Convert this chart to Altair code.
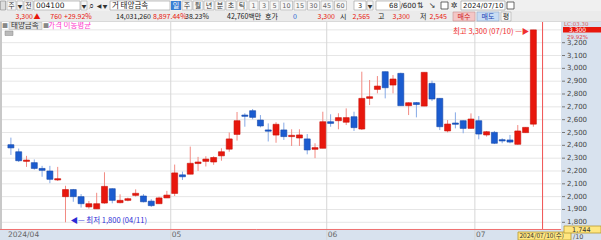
import altair as alt
import pandas as pd

# ---------------- data ----------------
dates = ["04/01","04/02","04/03","04/04","04/05","04/08","04/09","04/11","04/12","04/15",
         "04/16","04/17","04/18","04/19","04/22","04/23","04/24","04/25","04/26","04/29","04/30",
         "05/02","05/03","05/07","05/08","05/09","05/10","05/13","05/14","05/16","05/17",
         "05/20","05/21","05/22","05/23","05/24","05/27","05/28","05/29","05/30","05/31",
         "06/03","06/04","06/05","06/07","06/10","06/11","06/12","06/13","06/14","06/17",
         "06/18","06/19","06/20","06/21","06/24","06/25","06/26","06/27","06/28",
         "07/01","07/02","07/03","07/04","07/05","07/08","07/09","07/10"]
opens = [2405,2350,2275,2265,2220,2200,2130,2000,2055,2000,1920,1905,1950,2062,1953,1971,2010,2005,1965,1945,1990,
         2025,2170,2175,2258,2275,2270,2318,2370,2485,2636,2670,2597,2520,2480,2520,2468,2457,2450,2369,2377,
         2584,2592,2580,2623,2527,2766,2836,2974,2870,2961,2709,2733,2706,2883,2766,2512,2574,2592,2532,
         2592,2481,2501,2444,2442,2408,2499,2565]
closes = [2380,2280,2285,2220,2205,2135,2140,2055,2000,1945,1945,1945,2080,1971,1971,1984,2026,1960,1930,1990,2012,
          2185,2155,2260,2270,2293,2305,2350,2450,2592,2626,2618,2551,2510,2564,2468,2478,2481,2364,2382,2584,
          2571,2616,2616,2538,2766,2779,2862,2849,2917,2709,2732,2718,2969,2761,2545,2566,2564,2532,2605,
          2488,2506,2416,2434,2425,2512,2540,3300]
highs = [2460,2375,2318,2290,2240,2240,2232,2085,2060,2020,1966,2030,2190,2065,2018,1992,2057,2020,1980,2000,2045,
         2250,2195,2390,2310,2315,2315,2377,2500,2660,2650,2683,2636,2571,2580,2577,2525,2525,2488,2416,2662,
         2642,2650,2688,2662,2974,2909,2940,2975,2948,2966,2735,2738,2970,2904,2768,2597,2657,2594,2649,
         2628,2512,2512,2455,2481,2558,2540,3300]
lows = [2325,2270,2232,2210,2155,2105,2122,1800,1960,1915,1906,1905,1945,1948,1948,1964,2000,1955,1920,1945,1990,
        2005,2130,2175,2200,2235,2248,2280,2350,2437,2545,2603,2540,2430,2420,2442,2395,2395,2330,2300,2377,
        2545,2525,2558,2512,2520,2714,2805,2766,2805,2709,2636,2618,2705,2745,2519,2501,2532,2494,2530,
        2447,2468,2410,2416,2416,2405,2499,2545]
grid_values = [3300,3200,3100,3000,2900,2800,2700,2600,2500,2400,2300,2200,2100,2000,1900,1800]
axis_labels = [3200,3100,3000,2900,2800,2700,2600,2500,2400,2300,2200,2100,2000,1900,1800]
month_labels = ["2024/04","05","06","07"]
crosshair_value = 1744

FONT = "Noto Sans CJK KR"
NUMF = "DejaVu Sans"
RED = "#e8170d"
BLUE = "#1b5cd0"

df = pd.DataFrame({"idx": list(range(len(dates))), "date": dates, "open": opens,
                   "high": highs, "low": lows, "close": closes})

# month boundaries
mb = []
prev = None
for i, d in enumerate(dates):
    m = d[:2]
    if m != prev:
        mb.append(i - 0.5)
        prev = m
mdf = pd.DataFrame({"b": mb, "label": month_labels})

XS = alt.Scale(domain=[-0.7566, 75.032], nice=False, zero=False)
YS = alt.Scale(domain=[1662.05, 3532.85], nice=False, zero=False)
UP = "datum.close >= datum.open"

one = alt.Data(values=[{"a": 1}])


def T(s, x, y, color="#333333", size=8, align="left", weight="normal", font=FONT):
    return alt.Chart(one).mark_text(text=s, align=align, baseline="middle", fontSize=size,
                                    font=font, color=color, fontWeight=weight).encode(
        x=alt.value(x), y=alt.value(y))


def R(x0, y0, x1, y1, fill, stroke=None, sw=1):
    kw = dict(color=fill)
    if stroke:
        kw.update(stroke=stroke, strokeWidth=sw)
    return alt.Chart(one).mark_rect(**kw).encode(x=alt.value(x0), x2=alt.value(x1),
                                                 y=alt.value(y0), y2=alt.value(y1))


layers = []
# bands
layers.append(R(561, 22, 601, 229, "#d8e2ee"))
layers.append(R(0, 229, 601, 240, "#d8e2ee"))
layers.append(R(0, 22, 2, 229, "#c8c8c8"))

# horizontal grid
gdf = pd.DataFrame({"v": grid_values})
layers.append(alt.Chart(gdf).mark_rule(color="#e6e6e6", strokeWidth=1).encode(
    y=alt.Y("v:Q", scale=YS, axis=None), x=alt.value(2), x2=alt.value(561)))
# month grid
layers.append(alt.Chart(mdf).transform_filter("datum.b > 0").mark_rule(color="#d6d6d6").encode(
    x=alt.X("b:Q", scale=XS, axis=None), y=alt.value(22), y2=alt.value(240)))
# month labels
layers.append(alt.Chart(mdf).mark_text(align="left", baseline="middle", fontSize=7.5, font=NUMF,
                                       color="#666666", dx=1).encode(
    x=alt.X("b:Q", scale=XS, axis=None), y=alt.value(235), text="label:N"))

# candles
base = alt.Chart(df)
layers.append(base.mark_rule(strokeWidth=1).encode(
    x=alt.X("idx:Q", scale=XS, axis=None), y=alt.Y("low:Q", scale=YS, axis=None), y2="high:Q",
    color=alt.condition(UP, alt.value("#f28a82"), alt.value("#86a9e6"))))
layers.append(base.mark_bar(size=6, strokeWidth=0.6).encode(
    x=alt.X("idx:Q", scale=XS, axis=None), y=alt.Y("open:Q", scale=YS, axis=None), y2="close:Q",
    color=alt.condition(UP, alt.value(RED), alt.value(BLUE)),
    stroke=alt.condition(UP, alt.value("#c81008"), alt.value("#1446a8"))))

# crosshair
chdf = pd.DataFrame({"v": [crosshair_value], "i": [68.18]})
layers.append(alt.Chart(chdf).mark_rule(color="#f07070").encode(
    y=alt.Y("v:Q", scale=YS, axis=None), x=alt.value(0), x2=alt.value(561)))
layers.append(alt.Chart(chdf).mark_rule(color="#f05050").encode(
    x=alt.X("i:Q", scale=XS, axis=None), y=alt.value(22), y2=alt.value(229)))

# hi / lo annotations
lo = df[df.low == min(lows)].head(1)
hi = df[df.high == max(highs)].head(1)
layers.append(alt.Chart(lo).mark_text(align="left", baseline="middle", fontSize=7.5, font=FONT,
                                      color="#2b2bd6", dx=5, dy=-1).encode(
    x=alt.X("idx:Q", scale=XS, axis=None), y=alt.Y("low:Q", scale=YS, axis=None),
    text=alt.value("◀— 최저 1,800 (04/11)")))
layers.append(alt.Chart(hi).mark_text(align="right", baseline="middle", fontSize=7.5, font=FONT,
                                      color="#f03030", dx=-4, dy=2).encode(
    x=alt.X("idx:Q", scale=XS, axis=None), y=alt.Y("high:Q", scale=YS, axis=None),
    text=alt.value("최고 3,300 (07/10) —▶")))

# right axis
adf = pd.DataFrame({"v": axis_labels})
layers.append(alt.Chart(adf).mark_rule(color="#777777").encode(
    y=alt.Y("v:Q", scale=YS, axis=None), x=alt.value(562), x2=alt.value(565)))
layers.append(alt.Chart(adf).mark_text(align="left", baseline="middle", fontSize=7, font=NUMF,
                                       color="#444444").encode(
    y=alt.Y("v:Q", scale=YS, axis=None), x=alt.value(567), text=alt.Text("v:Q", format=",")))

# price markers on right
layers.append(T("LC:03.30", 564, 24.3, "#e06060", 5.5, font=NUMF))
layers.append(R(563, 27, 601, 32.5, "#e8170d"))
layers.append(T("3,300", 569, 29.8, "#ffffff", 6, font=NUMF))
layers.append(T("29.92%", 567, 37.2, "#e04040", 5.5, font=NUMF))
layers.append(R(518, 232, 571, 240, "#ffe680", "#b89a30", 0.8))
layers.append(T("2024/07/10(수)", 519.5, 236.3, "#333333", 6.5))
layers.append(R(564, 226, 601, 233, "#ffe680", "#b89a30", 0.8))
layers.append(T("1,744", 572, 229.6, "#333333", 6.5, font=NUMF))
layers.append(T("/10", 573, 236.5, "#555555", 6.5, font=NUMF))

# legend row
layers.append(T("■", 2, 26, "#888888", 6))
layers.append(R(9, 22.5, 42, 29.5, "#e4e4e4", "#bbbbbb", 0.6))
layers.append(T("태양금속", 11, 26, "#333333", 7.5))
layers.append(T("■", 43, 26, "#888888", 6))
layers.append(T("가격 이동평균", 48, 26, "#ff33cc", 7.5))
layers.append(R(5, 31, 13, 35.5, "#bbbbbb", "#888888", 0.5))

# toolbar rows
layers.append(R(0, 0, 601, 11, "#f0f0f0"))
layers.append(R(0, 11, 601, 22, "#ebebeb"))
layers.append(R(0, 21.5, 601, 22, "#c8c8c8"))
layers.append(R(0.5, 1, 5.5, 10, "#dddddd", "#888888", 0.6))
for lab, x0, x1 in [("주", 7, 16), ("▼", 17, 23), ("전", 24, 33)]:
    layers.append(R(x0, 1, x1, 10, "#f7f7f7", "#aaaaaa", 0.6))
    layers.append(T(lab, (x0 + x1) / 2, 5.5, "#333333", 7 if lab != "▼" else 5, align="center"))
layers.append(R(34, 1, 80, 10, "#ffffff", "#999999", 0.6))
layers.append(T("004100", 36, 5.5, "#222222", 7.5, font=NUMF))
layers.append(R(81, 1, 87, 10, "#f7f7f7", "#aaaaaa", 0.6))
layers.append(T("▼", 84, 5.5, "#333333", 5, align="center"))
layers.append(T("⌕", 91, 5.5, "#333333", 9, align="center", font=NUMF))
layers.append(T("◀", 99, 5.5, "#333333", 6, align="center", font=NUMF))
layers.append(T("▼", 105, 5.5, "#333333", 5, align="center"))
layers.append(R(110, 1, 170, 10, "#ffffff", "#999999", 0.6))
layers.append(T("거 태양금속", 112, 5.5, "#222222", 7.5))
layers.append(R(171, 1, 181, 10, "#3b7fd4"))
layers.append(T("일", 176, 5.5, "#ffffff", 7, align="center"))
x = 182
for lab in ["주", "월", "년", "분", "초", "틱"]:
    layers.append(R(x, 1, x + 10, 10, "#f7f7f7", "#aaaaaa", 0.6))
    layers.append(T(lab, x + 5, 5.5, "#333333", 7, align="center"))
    x += 11
x = 249
for lab in ["1", "3", "5", "10", "15", "30", "45", "60"]:
    w = 9 if len(lab) == 1 else 12
    layers.append(R(x, 1, x + w, 10, "#f7f7f7", "#aaaaaa", 0.6))
    layers.append(T(lab, x + w / 2, 5.5, "#666666", 6.5, align="center", font=NUMF))
    x += w + 1.5
layers.append(R(354, 1, 366, 10, "#ffffff", "#999999", 0.6))
layers.append(T("3", 360, 5.5, "#333333", 6.5, align="center", font=NUMF))
layers.append(R(367, 1, 373, 10, "#f7f7f7", "#aaaaaa", 0.6))
layers.append(T("▼", 370, 5.5, "#333333", 5, align="center"))
layers.append(R(376, 1, 400, 10, "#ffffff", "#999999", 0.6))
layers.append(T("68", 398, 5.5, "#222222", 7, align="right", font=NUMF))
layers.append(T("/600", 400.5, 5.5, "#222222", 7, font=NUMF))
layers.append(T("⇅", 420, 5.5, "#333333", 8, align="center", font=NUMF))
layers.append(T("↘", 432, 5.5, "#333333", 8, align="center", font=NUMF))
layers.append(R(441, 2, 448, 9, "#ffffff", "#444444", 0.8))
layers.append(T("✲", 454, 5.5, "#333333", 8, align="center", font=NUMF))
layers.append(R(461, 1, 505, 10, "#ffffff", "#999999", 0.6))
layers.append(T("2024/07/10", 463, 5.5, "#222222", 7, font=NUMF))
layers.append(R(507, 2, 514, 9, "#ffffff", "#444444", 0.8))

# row 2
R2 = 16.5
for s, x0, col, al in [("3,300", 33, "#e8170d", "right"), ("▲", 37, "#e8170d", "center"),
                       ("760", 62, "#e8170d", "right"), ("+29.92%", 64, "#e8170d", "left"),
                       ("14,031,260", 151, "#222222", "right"), ("8,897.44%", 153, "#e8170d", "left"),
                       ("38.23%", 185, "#222222", "left"), ("42,760백만", 227, "#222222", "left"),
                       ("호가", 265, "#222222", "left"), ("0", 297, "#1b5cd0", "right"),
                       ("3,300", 335, "#e8170d", "right"), ("시", 340, "#222222", "left"),
                       ("2,565", 370, "#e8170d", "right"), ("고", 378, "#222222", "left"),
                       ("3,300", 410, "#e8170d", "right"), ("저", 420, "#222222", "left"),
                       ("2,545", 447, "#e8170d", "right")]:
    layers.append(T(s, x0, R2, col, 7, align=al))
layers.append(R(453, 12, 475, 21, "#f4c6c6", "#c89090", 0.6))
layers.append(T("매수", 464, R2, "#cc2020", 7, align="center"))
layers.append(R(477, 12, 499, 21, "#c8dcf4", "#90a8c8", 0.6))
layers.append(T("매도", 488, R2, "#2040b0", 7, align="center"))
layers.append(R(501, 12, 511, 21, "#f7f7f7", "#aaaaaa", 0.6))
layers.append(T("평", 506, R2, "#222222", 7, align="center"))

chart = alt.layer(*layers).properties(
    width=601, height=240, padding=0,
    autosize=alt.AutoSizeParams(type="none")
).configure_view(strokeWidth=0).configure(background="#ffffff")

chart.save("out.html", embed_options={"renderer": "svg", "actions": False})
